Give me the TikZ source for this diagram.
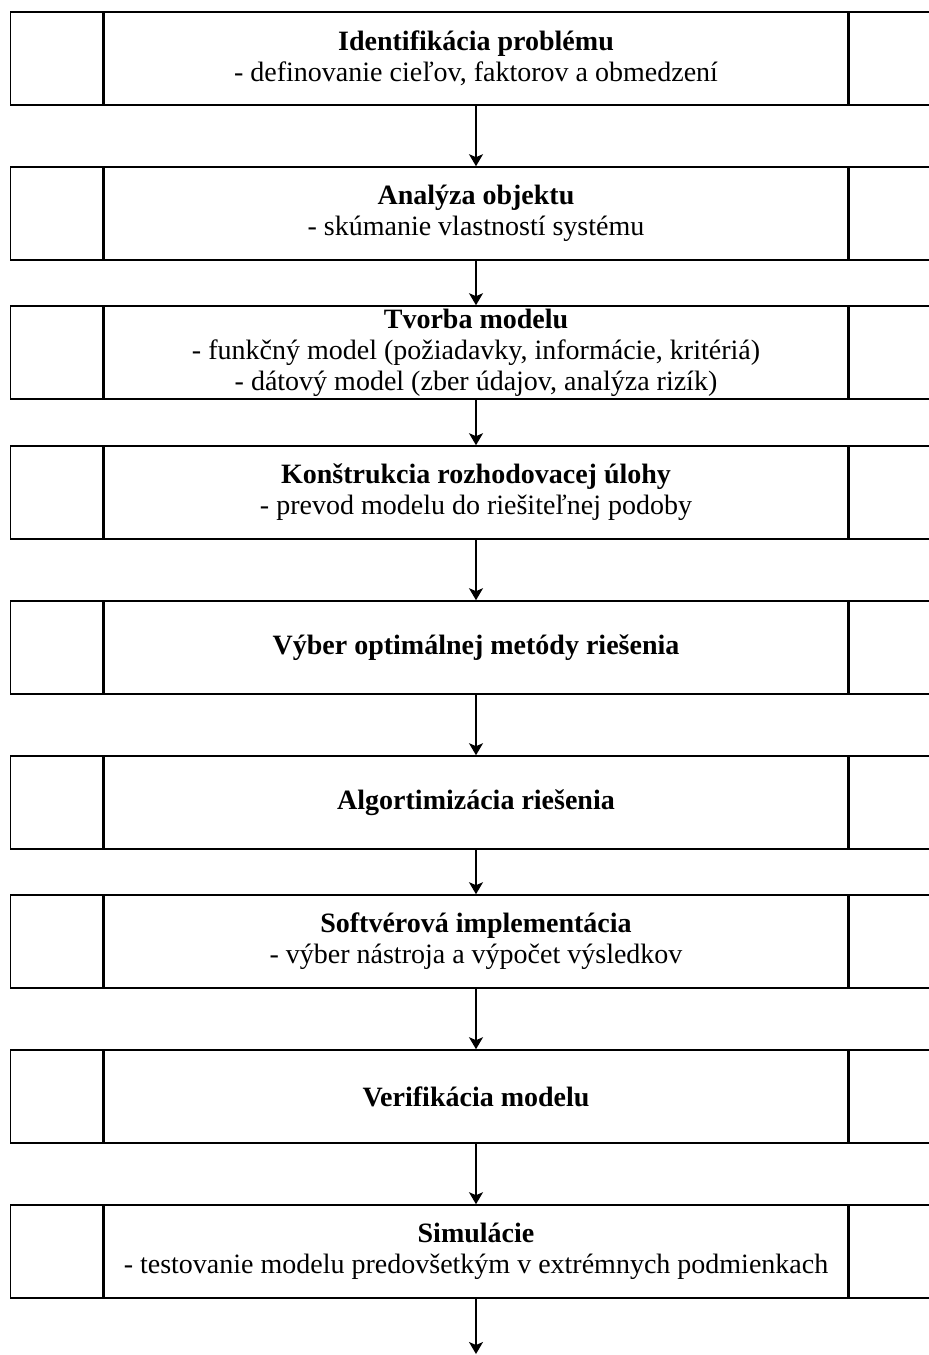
\documentclass[tikz,border=0pt]{standalone}
\usepackage{fontspec}
\setmainfont{Liberation Serif}
\usetikzlibrary{arrows.meta,positioning}

\tikzset{
  stepbox/.style={draw, line width=0.8pt, minimum width=372pt, minimum height=46.5pt,
    inner sep=0pt, align=center, font=\fontsize{14}{15.5}\selectfont},
  sidebox/.style={draw, line width=0.8pt, minimum width=46pt, minimum height=46.5pt, inner sep=0pt},
  flow/.style={-{Stealth[length=6pt, width=7pt, inset=1.5pt]}, line width=0.7pt}
}

\begin{document}
\begin{tikzpicture}[x=0.5pt, y=-0.5pt]
    \useasboundingbox (0, 0) rectangle (929, 1355);
    \clip (0, 0) rectangle (929, 1355);

    \node[stepbox] (s1) at (476, 58.5) {\textbf{Identifikácia problému}\\- definovanie cieľov, faktorov a obmedzení};
    \node[stepbox] (s2) at (476, 213.5) {\textbf{Analýza objektu}\\- skúmanie vlastností systému};
    \node[stepbox] (s3) at (476, 352.5) {\textbf{Tvorba modelu}\\- funkčný model (požiadavky, informácie, kritériá)\\- dátový model (zber údajov, analýza rizík)};
    \node[stepbox] (s4) at (476, 492.5) {\textbf{Konštrukcia rozhodovacej úlohy}\\- prevod modelu do riešiteľnej podoby};
    \node[stepbox] (s5) at (476, 647.5) {\textbf{Výber optimálnej metódy riešenia}};
    \node[stepbox] (s6) at (476, 802.5) {\textbf{Algortimizácia riešenia}};
    \node[stepbox] (s7) at (476, 941.5) {\textbf{Softvérová implementácia}\\- výber nástroja a výpočet výsledkov};
    \node[stepbox] (s8) at (476, 1096.5) {\textbf{Verifikácia modelu}};
    \node[stepbox] (s9) at (476, 1251.5) {\textbf{Simulácie}\\- testovanie modelu predovšetkým v extrémnych podmienkach};
    \coordinate (end) at (476, 1354);

    \foreach \i in {1,...,9} {
      \node[sidebox, anchor=east] (l\i) at (s\i.west) {};
      \node[sidebox, anchor=west] (r\i) at (s\i.east) {};
    }

    \foreach \a/\b in {s1/s2, s2/s3, s3/s4, s4/s5, s5/s6, s6/s7, s7/s8, s8/s9, s9/end} {
      \draw[flow] (\a.south) -- (\b.north);
    }
  \end{tikzpicture}
\end{document}
